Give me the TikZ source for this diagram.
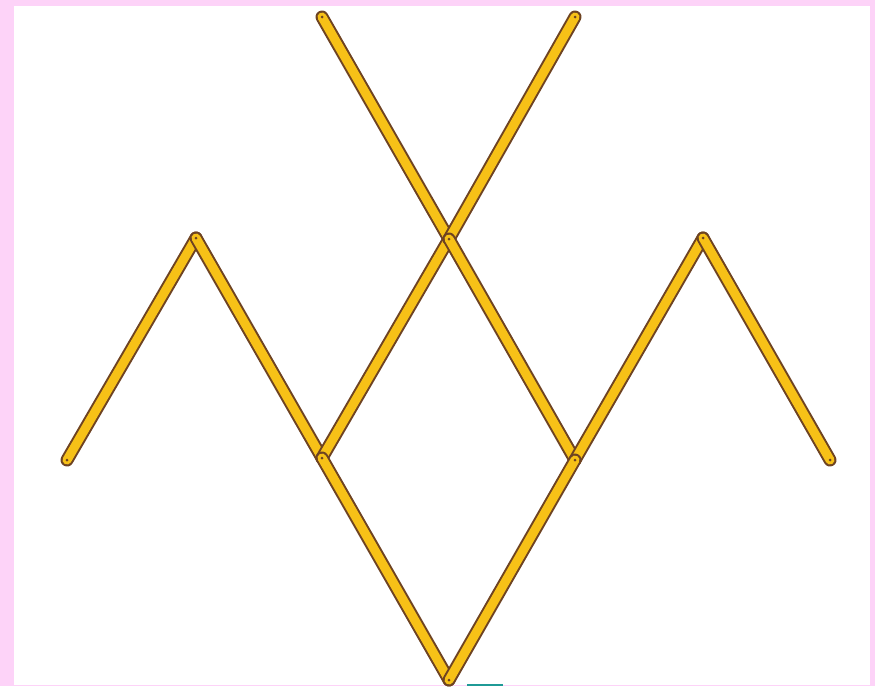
\documentclass[tikz,border=0pt]{standalone}
\begin{document}
\begin{tikzpicture}[x=1pt,y=-1pt,
  outline/.style={draw=stickbrown,line width=13pt,line cap=round},
  fillin/.style={draw=stickyellow,line width=9pt,line cap=round}]
\definecolor{pinkbg}{HTML}{FDD3F8}
\definecolor{stickbrown}{HTML}{6E4322}
\definecolor{stickyellow}{HTML}{F7C117}
\definecolor{tealbar}{HTML}{1F9A96}
\useasboundingbox (0,0) rectangle (875,686);
\fill[pinkbg] (0,0) rectangle (875,686);
\fill[white] (14,6) rectangle (870,685);
\fill[tealbar] (467,684) rectangle (503,686);
% endpoints
\coordinate (tl) at (322,17);
\coordinate (tr) at (575,17);
\coordinate (x) at (449,239);
\coordinate (l0) at (67,460);
\coordinate (la) at (196,238);
\coordinate (lm) at (322,458);
\coordinate (rm) at (575,460);
\coordinate (ra) at (703,238);
\coordinate (r0) at (830,460);
\coordinate (b) at (449,680);
\foreach \a/\c in {l0/la, la/lm, lm/x, tl/x, tr/x, x/rm, rm/ra, ra/r0, lm/b, rm/b}{
  \draw[outline] (\a) -- (\c);
  \draw[fillin] (\a) -- (\c);
}
\foreach \p in {tl,tr,x,l0,la,lm,rm,ra,r0,b}{
  \fill[stickbrown] (\p) circle (1.5);
}
\end{tikzpicture}
\end{document}
